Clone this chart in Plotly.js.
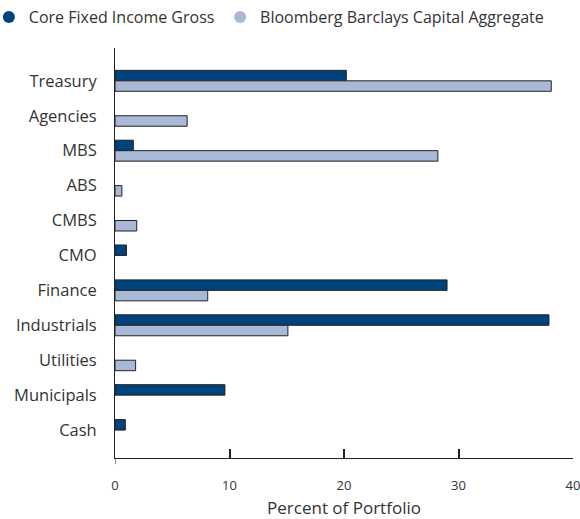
<!DOCTYPE html>
<html>
<head>
<meta charset="utf-8">
<script src="https://cdn.plot.ly/plotly-3.0.1.min.js"></script>
<style>html,body{margin:0;padding:0;background:#fff;}#chart{width:580px;height:519px;}</style>
</head>
<body>
<div id="chart"></div>
<script>
const categories = ["Treasury","Agencies","MBS","ABS","CMBS","CMO","Finance","Industrials","Utilities","Municipals","Cash"];
const coreFixedIncomeGross = [20.2, null, 1.6, null, null, 1.0, 29.0, 37.9, null, 9.6, 0.9];
const bloombergBarclaysAggregate = [38.1, 6.3, 28.2, 0.6, 1.9, null, 8.1, 15.1, 1.8, null, null];
const xTickVals = [0, 10, 20, 30, 40];
const xTickText = ["0", "10", "20", "30", "40"];

const coreColor = "#00427b";
const aggColor = "#a8b8d6";
const fontFam = "'Open Sans', Lato, sans-serif";

const data = [
  {type:"bar", orientation:"h", name:"Core Fixed Income Gross", y:categories, x:coreFixedIncomeGross,
   marker:{color:coreColor, line:{color:"#222222", width:1}}, showlegend:false, hoverinfo:"x+y"},
  {type:"bar", orientation:"h", name:"Bloomberg Barclays Capital Aggregate", y:categories, x:bloombergBarclaysAggregate,
   marker:{color:aggColor, line:{color:"#222222", width:1}}, showlegend:false, hoverinfo:"x+y"},
  {type:"scatter", mode:"markers", name:"Core Fixed Income Gross", x:[null], y:[null],
   marker:{color:coreColor, size:12, symbol:"circle"}, showlegend:true, legend:"legend"},
  {type:"scatter", mode:"markers", name:"Bloomberg Barclays Capital Aggregate", x:[null], y:[null],
   marker:{color:aggColor, size:12, symbol:"circle"}, showlegend:true, legend:"legend2"}
];

const legendCommon = {orientation:"h", xanchor:"left", y:1.117, yanchor:"top",
  font:{family:fontFam, size:16, color:"#333333"}, itemwidth:30, tracegroupgap:0, bgcolor:"rgba(0,0,0,0)"};

const layout = {
  width:580, height:519,
  margin:{l:115, r:7, t:48, b:61, pad:0, autoexpand:false},
  paper_bgcolor:"#ffffff", plot_bgcolor:"#ffffff",
  font:{family:fontFam, size:16, color:"#333333"},
  barmode:"group", bargap:0.4, bargroupgap:0,
  showlegend:true,
  legend:Object.assign({}, legendCommon, {x:-0.2754}),
  legend2:Object.assign({}, legendCommon, {x:0.2295}),
  xaxis:{range:[0,40], tickvals:xTickVals, ticktext:xTickText, ticks:"inside", ticklen:9, tickwidth:2,
         tickcolor:"#222222", showline:true, linecolor:"#222222", linewidth:1, showgrid:false, zeroline:false,
         tickfont:{family:fontFam, size:13, color:"#333333"}, ticklabelstandoff:15, ticklabeloverflow:"allow",
         title:{text:"Percent of Portfolio", font:{family:fontFam, size:17, color:"#333333"}, standoff:10},
         fixedrange:true},
  yaxis:{type:"category", autorange:false, range:[10.8, -0.94], showline:true, linecolor:"#222222", linewidth:1,
         ticks:"", showgrid:false, zeroline:false, ticklabelstandoff:14,
         tickfont:{family:fontFam, size:16.5, color:"#333333"}, fixedrange:true},
  shapes:[{type:"line", xref:"x", yref:"paper", x0:0, x1:0, y0:-0.015, y1:0, line:{color:"#222222", width:1}}]
};

Plotly.newPlot("chart", data, layout, {displayModeBar:false, staticPlot:true});
</script>
</body>
</html>
